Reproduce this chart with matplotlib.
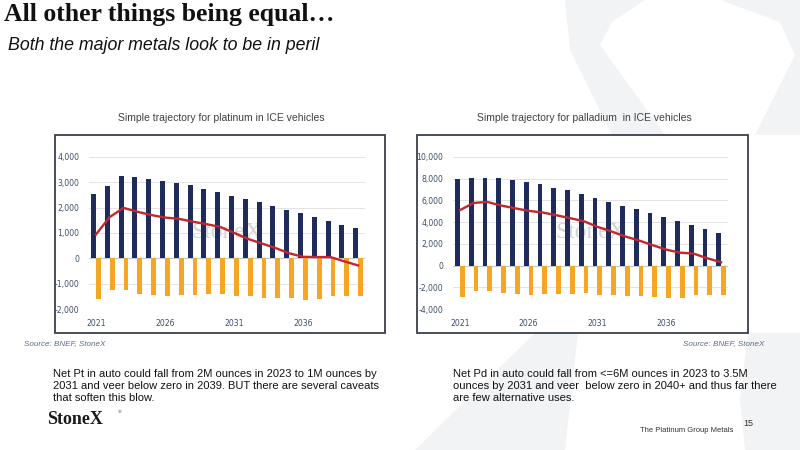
import matplotlib.pyplot as plt
from matplotlib.patches import Rectangle, Polygon

# ---- data (thousand oz), 2021-2040 ----
years = list(range(2021, 2041))
year_ticks = [2021, 2026, 2031, 2036]

pt_gross = [2540, 2860, 3240, 3200, 3150, 3070, 2980, 2880, 2750, 2610,
            2470, 2340, 2210, 2070, 1910, 1780, 1630, 1480, 1310, 1180]
pt_loss = [-1610, -1260, -1260, -1400, -1440, -1490, -1440, -1440, -1410, -1410,
           -1490, -1490, -1560, -1560, -1580, -1630, -1610, -1480, -1480, -1480]
pt_net = [940, 1630, 1990, 1840, 1710, 1610, 1560, 1450, 1350, 1240,
          1010, 770, 590, 410, 200, 60, 50, 50, -120, -280]

pd_gross = [7970, 8060, 8060, 8060, 7880, 7700, 7510, 7150, 6930, 6570,
            6230, 5860, 5530, 5220, 4860, 4490, 4120, 3730, 3330, 3020]
pd_loss = [-2870, -2350, -2350, -2500, -2630, -2750, -2630, -2630, -2630, -2570,
           -2750, -2750, -2810, -2810, -2870, -3020, -2960, -2690, -2690, -2690]
pd_net = [5100, 5770, 5860, 5530, 5280, 5040, 4890, 4640, 4370, 4090,
          3570, 3150, 2690, 2320, 1890, 1470, 1190, 1100, 670, 310]

NAVY, ORANGE, RED = "#1F2B5B", "#F6A623", "#C1272D"
TICK_COLOR = "#3F4F66"
GREY_BG = "#F2F3F5"
W, H = 800, 450

fig = plt.figure(figsize=(8, 4.5), dpi=100)
fig.patch.set_facecolor("white")


def px_poly(points):
    # points in pixel coords (origin top-left) -> figure fraction
    return Polygon([(x / W, 1 - y / H) for x, y in points], closed=True,
                   transform=fig.transFigure, facecolor=GREY_BG, edgecolor="none", zorder=0)


# faint StoneX "X" watermark in the background
for pts in [
    [(565, 0), (645, 0), (612, 22), (600, 45), (665, 135), (612, 135), (570, 50)],
    [(720, 0), (800, 0), (800, 135), (755, 135), (795, 55), (780, 22)],
    [(535, 333), (578, 333), (565, 450), (415, 450)],
    [(748, 333), (800, 333), (800, 450), (745, 450), (740, 400)],
]:
    fig.patches.append(px_poly(pts))


def add_box(x0, y0, x1, y1):
    fig.patches.append(Rectangle((x0 / W, 1 - y1 / H), (x1 - x0) / W, (y1 - y0) / H,
                                 transform=fig.transFigure, facecolor="white",
                                 edgecolor="#3A3F4B", linewidth=1.3, zorder=1))


def make_chart(rect, gross, loss, net, ylim, ystep, title, title_x):
    ax = fig.add_axes(rect)
    ax.set_zorder(2)
    ax.patch.set_alpha(0)
    x = list(range(len(years)))
    ax.bar(x, gross, width=-0.35, align="edge", color=NAVY, zorder=3)
    ax.bar(x, loss, width=0.35, align="edge", color=ORANGE, zorder=3)
    ax.plot(x, net, color=RED, linewidth=1.7, zorder=4, solid_joinstyle="round")
    ax.axhline(0, color="#BFCBDA", linewidth=0.9, zorder=2)

    ax.set_xlim(-0.5, len(years) - 0.5)
    ax.set_ylim(*ylim)
    yt = list(range(ylim[0], ylim[1] + 1, ystep))
    ax.set_yticks(yt)
    ax.set_yticklabels([f"{v:,}" for v in yt])
    ax.set_xticks([years.index(y) for y in year_ticks])
    ax.set_xticklabels([str(y) for y in year_ticks])
    ax.grid(axis="y", color="#E3E3E3", linewidth=0.7, zorder=0)
    ax.tick_params(length=0, labelsize=5.6, labelcolor=TICK_COLOR)
    ax.tick_params(axis="y", pad=7)
    ax.tick_params(axis="x", pad=7)
    for s in ax.spines.values():
        s.set_visible(False)
    ax.text(0.5, 0.5, "StoneX", transform=ax.transAxes, fontsize=17,
            family="Liberation Serif", color="#C9C9C9", alpha=0.8,
            ha="center", va="center", zorder=1)
    fig.text(title_x / W, 1 - 118 / H, title, fontsize=7.5, family="Liberation Sans",
             color="#404040", ha="center", va="center")
    return ax


add_box(55, 135, 385, 333)
add_box(417, 135, 748, 333)

make_chart([89 / W, 1 - 309 / H, 276 / W, 152 / H], pt_gross, pt_loss, pt_net,
           (-2000, 4000), 1000, "Simple trajectory for platinum in ICE vehicles", 221)
make_chart([453 / W, 1 - 309 / H, 275 / W, 152 / H], pd_gross, pd_loss, pd_net,
           (-4000, 10000), 2000, "Simple trajectory for palladium  in ICE vehicles", 584)

# headline
fig.text(4 / W, 1 - 14 / H, "All other things being equal\u2026", fontsize=18.5,
         family="Liberation Serif", weight="bold", color="#111111", ha="left", va="center")
fig.text(8 / W, 1 - 46 / H, "Both the major metals look to be in peril", fontsize=12.8,
         family="Liberation Sans", style="italic", color="#111111", ha="left", va="center")

# sources
fig.text(24 / W, 1 - 344 / H, "Source: BNEF, StoneX", fontsize=5.8, family="Liberation Sans",
         style="italic", color="#5B6B85", ha="left", va="center")
fig.text(764 / W, 1 - 344 / H, "Source: BNEF, StoneX", fontsize=5.8, family="Liberation Sans",
         style="italic", color="#5B6B85", ha="right", va="center")

# commentary
fig.text(53 / W, 1 - 386 / H,
         "Net Pt in auto could fall from 2M ounces in 2023 to 1M ounces by\n"
         "2031 and veer below zero in 2039. BUT there are several caveats\n"
         "that soften this blow.",
         fontsize=8.0, family="Liberation Sans", color="#111111", ha="left", va="center",
         linespacing=1.3)
fig.text(453 / W, 1 - 386 / H,
         "Net Pd in auto could fall from <=6M ounces in 2023 to 3.5M\n"
         "ounces by 2031 and veer  below zero in 2040+ and thus far there\n"
         "are few alternative uses.",
         fontsize=8.0, family="Liberation Sans", color="#111111", ha="left", va="center",
         linespacing=1.3)

# logo + footer
fig.text(47 / W, 1 - 419 / H, "StoneX", fontsize=13, family="Liberation Serif",
         weight="bold", color="#1A1A1A", ha="left", va="center")
fig.text(118 / W, 1 - 412 / H, "\u00ae", fontsize=3.5, family="Liberation Serif",
         color="#1A1A1A", ha="left", va="center")
fig.text(733 / W, 1 - 430 / H, "The Platinum Group Metals", fontsize=5.5,
         family="Liberation Sans", color="#333333", ha="right", va="center")
fig.text(743 / W, 1 - 423 / H, "15", fontsize=6.5, family="Liberation Sans",
         color="#333333", ha="left", va="center")

fig.savefig("out.png", dpi=100)
